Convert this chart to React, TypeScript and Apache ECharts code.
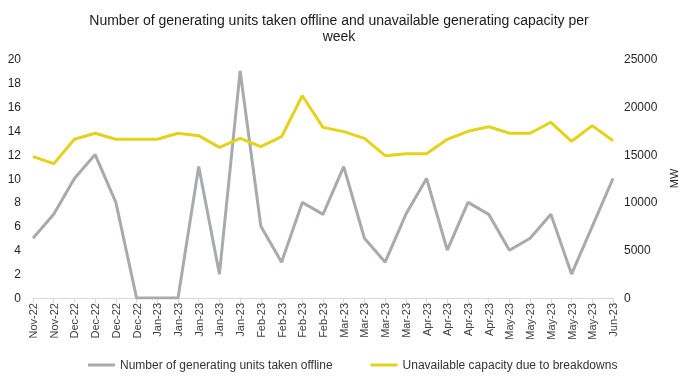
import React, { useEffect, useRef } from "react";
import * as echarts from "echarts";

const categories = [
  "Nov-22", "Nov-22", "Dec-22", "Dec-22", "Dec-22", "Dec-22",
  "Jan-23", "Jan-23", "Jan-23", "Jan-23", "Jan-23",
  "Feb-23", "Feb-23", "Feb-23", "Feb-23",
  "Mar-23", "Mar-23", "Mar-23", "Mar-23",
  "Apr-23", "Apr-23", "Apr-23", "Apr-23",
  "May-23", "May-23", "May-23", "May-23", "May-23", "Jun-23",
];

const unitsOffline = [5, 7, 10, 12, 8, 0, 0, 0, 11, 2, 19, 6, 3, 8, 7, 11, 5, 3, 7, 10, 4, 8, 7, 4, 5, 7, 2, 6, 10];

const unavailableMW = [
  14780, 14050, 16600, 17230, 16600, 16600, 16600, 17230, 16980, 15760, 16700,
  15830, 16870, 21160, 17850, 17400, 16700, 14890, 15100, 15100, 16600, 17440,
  17920, 17230, 17230, 18380, 16390, 18030, 16450,
];

const seriesNames = [
  "Number of generating units taken offline",
  "Unavailable capacity due to breakdowns",
];

const titleLines = [
  "Number of generating units taken offline and unavailable generating capacity per",
  "week",
];

export default function App() {
  const ref = useRef<HTMLDivElement>(null);
  useEffect(() => {
    if (!ref.current) return;
    const chart = echarts.init(ref.current, undefined, { renderer: "svg" });
    const font = "'Liberation Sans', Arial, sans-serif";
    chart.setOption({
      animation: false,
      textStyle: { fontFamily: font },
      graphic: titleLines.map((t, i) => ({
        type: "text",
        x: 339,
        y: 20 + i * 16,
        style: {
          text: t,
          fontSize: 14,
          fontFamily: font,
          fill: "#1a1a1a",
          align: "center",
          verticalAlign: "middle",
        },
      })),
      legend: {
        bottom: 7,
        left: 83,
        itemGap: 38,
        itemWidth: 27,
        itemHeight: 3,
        icon: "rect",
        textStyle: { fontSize: 12, color: "#333", fontFamily: font },
        data: seriesNames,
      },
      grid: { left: 33, right: 79, top: 59, bottom: 85 },
      xAxis: {
        type: "category",
        data: categories,
        boundaryGap: false,
        axisLine: { lineStyle: { color: "#d9d9d9" } },
        axisTick: { show: true, alignWithLabel: true, lineStyle: { color: "#d9d9d9" } },
        axisLabel: { rotate: 90, fontSize: 11, color: "#404040", interval: 0, margin: 5, fontFamily: font },
        splitLine: { show: false },
      },
      yAxis: [
        {
          type: "value",
          min: 0,
          max: 20,
          interval: 2,
          axisLine: { show: false },
          axisTick: { show: false },
          splitLine: { show: false },
          axisLabel: { fontSize: 12, color: "#262626", margin: 12, fontFamily: font },
        },
        {
          type: "value",
          min: 0,
          max: 25000,
          interval: 5000,
          name: "MW",
          nameLocation: "middle",
          nameRotate: 90,
          nameGap: 54,
          nameTextStyle: { fontSize: 11, color: "#262626", fontFamily: font },
          axisLine: { show: false },
          axisTick: { show: false },
          splitLine: { show: false },
          axisLabel: {
            fontSize: 12,
            color: "#262626",
            margin: 11,
            fontFamily: font,
            formatter: (v: number) => String(v),
          },
        },
      ],
      series: [
        {
          name: seriesNames[0],
          type: "line",
          data: unitsOffline,
          yAxisIndex: 0,
          symbol: "none",
          lineStyle: { width: 3, color: "#a7abad" },
          itemStyle: { color: "#a7abad" },
        },
        {
          name: seriesNames[1],
          type: "line",
          data: unavailableMW,
          yAxisIndex: 1,
          symbol: "none",
          lineStyle: { width: 3, color: "#e3d31b" },
          itemStyle: { color: "#e3d31b" },
        },
      ],
    });
    return () => chart.dispose();
  }, []);
  return <div ref={ref} style={{ position: "fixed", left: 0, top: 0, width: 692, height: 383 }} />;
}
